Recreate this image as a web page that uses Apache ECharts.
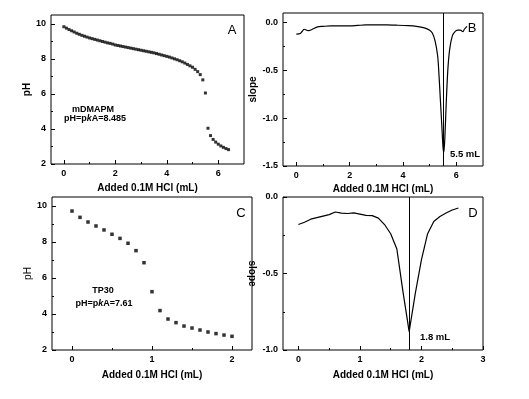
<!doctype html>
<html lang="en">
<head>
    <meta charset="UTF-8">
    <script type="text/javascript" src="https://cdn.jsdelivr.net/npm/echarts@6/dist/echarts.min.js"></script>
    <title>titration</title>
    <style>
        html, body { margin: 0; padding: 0; background: #fff; }
    </style>
</head>
<body>
    <div id="main" style="width: 529px;height:399px;"></div>
</body>
<script type="text/javascript">
    // A: pH vs added HCl (mDMAPM)
    var aX = [0, 0.1, 0.2, 0.3, 0.4, 0.5, 0.6, 0.7, 0.8, 0.9, 1.0, 1.1, 1.2, 1.3, 1.4, 1.5, 1.6, 1.7, 1.8, 1.9,
        2.0, 2.1, 2.2, 2.3, 2.4, 2.5, 2.6, 2.7, 2.8, 2.9, 3.0, 3.1, 3.2, 3.3, 3.4, 3.5, 3.6, 3.7, 3.8, 3.9,
        4.0, 4.1, 4.2, 4.3, 4.4, 4.5, 4.6, 4.7, 4.8, 4.9, 5.0, 5.1, 5.2, 5.3, 5.4, 5.5, 5.6, 5.7, 5.8, 5.9,
        6.0, 6.1, 6.2, 6.3, 6.4];
    var aPH = [9.83, 9.75, 9.67, 9.60, 9.53, 9.46, 9.40, 9.34, 9.29, 9.24, 9.19, 9.15, 9.11, 9.07, 9.03, 8.99, 8.95, 8.91, 8.88, 8.84,
        8.79, 8.76, 8.73, 8.70, 8.67, 8.64, 8.61, 8.58, 8.55, 8.52, 8.49, 8.46, 8.43, 8.40, 8.37, 8.34, 8.30, 8.26, 8.22, 8.18,
        8.14, 8.10, 8.05, 8.00, 7.95, 7.89, 7.83, 7.76, 7.68, 7.60, 7.52, 7.40, 7.27, 7.10, 6.80, 6.05, 4.04, 3.62, 3.40, 3.25,
        3.13, 3.03, 2.95, 2.88, 2.82];

    // B: slope (mDMAPM)
    var bX = [0, 0.15, 0.3, 0.45, 0.6, 0.8, 1.0, 1.3, 1.6, 2.0, 2.3, 2.6, 3.0, 3.4, 3.8, 4.2, 4.5, 4.8, 5.0, 5.1,
        5.2, 5.3, 5.35, 5.4, 5.45, 5.5, 5.53, 5.57, 5.62, 5.68, 5.75, 5.85, 5.95, 6.05, 6.15, 6.25, 6.3, 6.4];
    var bSlope = [-0.12, -0.115, -0.07, -0.085, -0.07, -0.045, -0.04, -0.035, -0.035, -0.035, -0.03, -0.025, -0.025, -0.025, -0.028, -0.033, -0.04, -0.055, -0.08, -0.11,
        -0.19, -0.35, -0.55, -0.8, -1.05, -1.3, -1.36, -1.2, -0.85, -0.5, -0.28, -0.14, -0.095, -0.08, -0.08, -0.095, -0.07, -0.04];

    // C: pH vs added HCl (TP30)
    var cX = [0, 0.1, 0.2, 0.3, 0.4, 0.5, 0.6, 0.7, 0.8, 0.9, 1.0, 1.1, 1.2, 1.3, 1.4, 1.5, 1.6, 1.7, 1.8, 1.9, 2.0];
    var cPH = [9.72, 9.37, 9.11, 8.89, 8.67, 8.43, 8.20, 7.93, 7.52, 6.85, 5.24, 4.19, 3.72, 3.52, 3.33, 3.22, 3.11, 3.00, 2.91, 2.83, 2.76];

    // D: slope (TP30)
    var dX = [0, 0.1, 0.2, 0.3, 0.4, 0.5, 0.6, 0.7, 0.8, 0.9, 1.0, 1.1, 1.2, 1.3, 1.4, 1.5, 1.6, 1.7, 1.8, 1.9,
        2.0, 2.1, 2.2, 2.3, 2.4, 2.5, 2.6];
    var dSlope = [-0.18, -0.165, -0.145, -0.135, -0.125, -0.115, -0.098, -0.105, -0.108, -0.104, -0.112, -0.12, -0.122, -0.138, -0.18, -0.24, -0.34, -0.62, -0.88, -0.63,
        -0.41, -0.24, -0.16, -0.128, -0.105, -0.085, -0.072];

    // tick labels
    var aXTicks = [0, 2, 4, 6], aXMinor = [1, 3, 5];
    var aYTicks = [2, 4, 6, 8, 10], aYMinor = [3, 5, 7, 9];
    var bXTicks = [0, 2, 4, 6], bXMinor = [1, 3, 5];
    var bYTicks = [0, -0.5, -1.0, -1.5], bYMinor = [-0.25, -0.75, -1.25];
    var cXTicks = [0, 1, 2], cXMinor = [0.5, 1.5];
    var cYTicks = [2, 4, 6, 8, 10], cYMinor = [3, 5, 7, 9];
    var dXTicks = [0, 1, 2, 3], dXMinor = [0.5, 1.5, 2.5];
    var dYTicks = [0, -0.5, -1.0], dYMinor = [-0.25, -0.75];

    var FONT = '"Liberation Sans", Arial, sans-serif';
    var xTitle = 'Added 0.1M HCl (mL)';

    function pairs(xs, ys) {
        var out = [];
        for (var i = 0; i < xs.length; i++) out.push([xs[i], ys[i]]);
        return out;
    }

    // main axis with labels + an overlay axis for the short minor ticks
    function xAx(grid, min, max, ticks, fmt, gap) {
        return {
            type: 'value', gridIndex: grid, min: min, max: max, position: 'bottom',
            name: xTitle, nameLocation: 'middle', nameGap: gap,
            nameTextStyle: {color: '#000', fontFamily: FONT, fontWeight: 'bold', fontSize: 10},
            axisLine: {show: false, onZero: false}, splitLine: {show: false},
            axisTick: {show: true, inside: true, length: 4, customValues: ticks, lineStyle: {color: '#000'}},
            axisLabel: {customValues: ticks, margin: 5, color: '#000', fontFamily: FONT, fontWeight: 'bold', fontSize: 9,
                formatter: fmt}
        };
    }
    function yAx(grid, min, max, ticks, fmt, name, gap, extra) {
        var ax = {
            type: 'value', gridIndex: grid, min: min, max: max, position: 'left',
            name: name, nameLocation: 'middle', nameGap: gap,
            nameTextStyle: {color: '#000', fontFamily: FONT, fontWeight: 'bold', fontSize: 10},
            axisLine: {show: false, onZero: false}, splitLine: {show: false},
            axisTick: {show: true, inside: true, length: 4, customValues: ticks, lineStyle: {color: '#000'}},
            axisLabel: {customValues: ticks, margin: 5, color: '#000', fontFamily: FONT, fontWeight: 'bold', fontSize: 9,
                formatter: fmt}
        };
        if (extra) {
            for (var k in extra) ax[k] = extra[k];
        }
        return ax;
    }
    function minorAx(grid, min, max, ticks, pos) {
        return {
            type: 'value', gridIndex: grid, min: min, max: max, position: pos,
            axisLine: {show: false, onZero: false}, splitLine: {show: false}, axisLabel: {show: false},
            axisTick: {show: true, inside: true, length: 2, customValues: ticks, lineStyle: {color: '#000'}}
        };
    }

    var intFmt = function (v) { return String(v); };
    var oneFmt = function (v) { return v.toFixed(1); };

    var gridStyle = {show: true, borderColor: '#000', borderWidth: 1, backgroundColor: 'transparent'};
    function grid(l, t, w, h) {
        return Object.assign({left: l, top: t, width: w, height: h, containLabel: false}, gridStyle);
    }

    var vline = function (x) {
        return {
            silent: true, symbol: ['none', 'none'], label: {show: false},
            lineStyle: {color: '#000', width: 1, type: 'solid'},
            data: [{xAxis: x}]
        };
    };

    function txt(x, y, text, size, weight, align) {
        return {
            type: 'text', x: x, y: y,
            style: {text: text, fill: '#000', fontFamily: FONT, fontSize: size, fontWeight: weight,
                align: align || 'center', verticalAlign: 'middle'}
        };
    }
    function pkText(x, y, value) {
        return {
            type: 'text', x: x, y: y,
            style: {
                text: 'pH=p{i|k}A=' + value, fill: '#000', fontFamily: FONT, fontSize: 9, fontWeight: 'bold',
                align: 'center', verticalAlign: 'middle',
                rich: {i: {fontStyle: 'italic', fontWeight: 'bold', fontFamily: FONT, fontSize: 9, fill: '#000'}}
            }
        };
    }

    var myChart = echarts.init(document.getElementById('main'), null, {renderer: 'canvas'});
    myChart.setOption({
        animation: false,
        backgroundColor: '#fff',
        grid: [
            grid(51, 15, 193, 149),
            grid(283, 13, 200, 153),
            grid(52, 197, 200, 153),
            grid(283, 197, 200, 153)
        ],
        xAxis: [
            xAx(0, -0.5, 7, aXTicks, intFmt, 19),
            xAx(1, -0.5, 7, bXTicks, intFmt, 18),
            xAx(2, -0.25, 2.25, cXTicks, intFmt, 20),
            xAx(3, -0.25, 3, dXTicks, intFmt, 20),
            minorAx(0, -0.5, 7, aXMinor, 'bottom'),
            minorAx(1, -0.5, 7, bXMinor, 'bottom'),
            minorAx(2, -0.25, 2.25, cXMinor, 'bottom'),
            minorAx(3, -0.25, 3, dXMinor, 'bottom')
        ],
        yAxis: [
            yAx(0, 2, 10.5, aYTicks, intFmt, 'pH', 17),
            yAx(1, -1.5, 0.1, bYTicks, oneFmt, 'slope', 24),
            yAx(2, 2, 10.5, cYTicks, intFmt, 'pH', 18,
                {nameTextStyle: {color: '#000', fontFamily: FONT, fontWeight: 'normal', fontSize: 10}}),
            yAx(3, -1.0, 0, dYTicks, oneFmt, 'slope', 26, {nameRotate: -90}),
            minorAx(0, 2, 10.5, aYMinor, 'left'),
            minorAx(1, -1.5, 0.1, bYMinor, 'left'),
            minorAx(2, 2, 10.5, cYMinor, 'left'),
            minorAx(3, -1.0, 0, dYMinor, 'left')
        ],
        series: [
            {
                name: 'A', type: 'scatter', xAxisIndex: 0, yAxisIndex: 0,
                symbol: 'rect', symbolSize: 3, itemStyle: {color: '#000'},
                data: pairs(aX, aPH)
            },
            {
                name: 'B', type: 'line', xAxisIndex: 1, yAxisIndex: 1,
                showSymbol: false, smooth: 0.3, lineStyle: {color: '#000', width: 1.2},
                data: pairs(bX, bSlope),
                markLine: vline(5.5)
            },
            {
                name: 'C', type: 'scatter', xAxisIndex: 2, yAxisIndex: 2,
                symbol: 'rect', symbolSize: 3.5, itemStyle: {color: '#000'},
                data: pairs(cX, cPH)
            },
            {
                name: 'D', type: 'line', xAxisIndex: 3, yAxisIndex: 3,
                showSymbol: false, lineStyle: {color: '#000', width: 1.2},
                data: pairs(dX, dSlope),
                markLine: vline(1.8)
            }
        ],
        graphic: [
            txt(232, 30, 'A', 13, 'normal'),
            txt(472, 28, 'B', 13, 'normal'),
            txt(241, 213, 'C', 13, 'normal'),
            txt(473, 213, 'D', 13, 'normal'),
            txt(93, 110, 'mDMAPM', 9, 'bold'),
            pkText(95, 119, '8.485'),
            txt(103, 291, 'TP30', 9, 'bold'),
            pkText(104, 304, '7.61'),
            txt(465, 154, '5.5 mL', 9.5, 'bold'),
            txt(435, 337, '1.8 mL', 9.5, 'bold')
        ]
    });
</script>
</html>
